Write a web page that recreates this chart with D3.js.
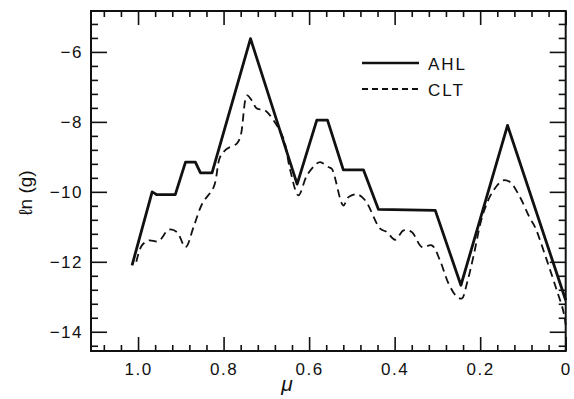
<!DOCTYPE html>
<html><head><meta charset="utf-8">
<script src="https://cdn.jsdelivr.net/npm/d3@7"></script>
<style>
body{margin:0;background:#fff;}
svg{display:block;}
text{font-family:"Liberation Sans",Arial,sans-serif;fill:#111;}
</style></head>
<body>
<svg id="c" width="574" height="399"></svg>
<script>
// ---- data ----
const ahlMu = [1.014,0.967,0.960,0.957,0.913,0.889,0.866,0.854,0.827,0.737,0.628,0.582,0.557,0.520,0.473,0.438,0.305,0.245,0.136,0.0];
const ahlG  = [-12.1,-10.0,-10.05,-10.08,-10.08,-9.15,-9.15,-9.46,-9.46,-5.62,-9.78,-7.95,-7.95,-9.37,-9.37,-10.5,-10.53,-12.67,-8.1,-13.1];

const cltMu = [1.004,0.991,0.975,0.952,0.928,0.909,0.889,0.870,0.850,0.823,0.808,0.792,0.769,0.760,0.745,0.734,0.722,0.703,0.683,0.660,0.644,0.625,0.605,0.582,0.574,0.555,0.547,0.520,0.508,0.488,0.469,0.434,0.418,0.399,0.379,0.360,0.336,0.313,0.294,0.274,0.255,0.243,0.231,0.216,0.193,0.169,0.146,0.130,0.107,0.083,0.072,0.044,0.021,0.006,0.0];
const cltG  = [-12.0,-11.53,-11.39,-11.41,-11.08,-11.15,-11.58,-11.0,-10.34,-9.86,-9.0,-8.77,-8.62,-8.39,-7.24,-7.39,-7.62,-7.67,-7.96,-8.48,-9.39,-10.1,-9.53,-9.19,-9.15,-9.29,-9.34,-10.39,-10.15,-10.07,-10.24,-11.05,-11.15,-11.37,-11.1,-11.15,-11.58,-11.53,-11.96,-12.62,-12.99,-13.05,-12.62,-11.86,-10.62,-9.96,-9.67,-9.72,-10.15,-10.77,-11.0,-11.96,-12.81,-13.39,-13.8];

const xTicks = [1.0,0.8,0.6,0.4,0.2,0];
const yTicks = [-14,-12,-10,-8,-6];
const seriesNames = ["AHL","CLT"];

// ---- layout ----
const L=91, R=565.7, T=11, B=351;
const svg = d3.select("#c");
const x = d3.scaleLinear().domain([1.11,0]).range([L,R]);
const y = d3.scaleLinear().domain([-14.55,-4.83]).range([B,T]);

const xMinor = d3.range(0.04,1.10,0.04).map(v=>+v.toFixed(2)).filter(v=>Math.abs(v*5-Math.round(v*5))>1e-6);
const yMinor = d3.range(-14.4,-4.9,0.4).map(v=>+v.toFixed(1)).filter(v=>Math.abs(v/2-Math.round(v/2))>1e-6);

function styleAxis(g){
  g.select(".domain").remove();
  g.selectAll(".tick line").attr("stroke","#111").attr("stroke-width",1.6);
  g.selectAll(".tick text").style("font-size","17px").style("letter-spacing","1.5px").attr("fill","#111");
}
const fx = d=> d===0?"0":d.toFixed(1);
const fy = d=> "\u2212"+Math.abs(d);

// bottom
svg.append("g").attr("transform",`translate(0,${B})`)
  .call(d3.axisBottom(x).tickValues(xTicks).tickSize(-14).tickPadding(12).tickFormat(fx)).call(styleAxis);
svg.append("g").attr("transform",`translate(0,${B})`)
  .call(d3.axisBottom(x).tickValues(xMinor).tickSize(-6).tickFormat("")).call(styleAxis);
// top
svg.append("g").attr("transform",`translate(0,${T})`)
  .call(d3.axisTop(x).tickValues(xTicks).tickSize(-14).tickFormat("")).call(styleAxis);
svg.append("g").attr("transform",`translate(0,${T})`)
  .call(d3.axisTop(x).tickValues(xMinor).tickSize(-6).tickFormat("")).call(styleAxis);
// left
svg.append("g").attr("transform",`translate(${L},0)`)
  .call(d3.axisLeft(y).tickValues(yTicks).tickSize(-16).tickPadding(8).tickFormat(fy)).call(styleAxis);
svg.append("g").attr("transform",`translate(${L},0)`)
  .call(d3.axisLeft(y).tickValues(yMinor).tickSize(-7).tickFormat("")).call(styleAxis);
// right
svg.append("g").attr("transform",`translate(${R},0)`)
  .call(d3.axisRight(y).tickValues(yTicks).tickSize(-16).tickFormat("")).call(styleAxis);
svg.append("g").attr("transform",`translate(${R},0)`)
  .call(d3.axisRight(y).tickValues(yMinor).tickSize(-7).tickFormat("")).call(styleAxis);

// frame
svg.append("rect").attr("x",L).attr("y",T).attr("width",R-L).attr("height",B-T)
  .attr("fill","none").attr("stroke","#111").attr("stroke-width",2);

// lines
const line = d3.line().x(d=>x(d[0])).y(d=>y(d[1]));
const ahl = ahlMu.map((m,i)=>[m,ahlG[i]]);
const clt = cltMu.map((m,i)=>[m,cltG[i]]);
svg.append("path").attr("d",line.curve(d3.curveLinear)(ahl)).attr("fill","none")
  .attr("stroke","#111").attr("stroke-width",2.8).attr("stroke-linejoin","round");
svg.append("path").attr("d",d3.line().x(d=>x(d[0])).y(d=>y(d[1])).curve(d3.curveCatmullRom.alpha(0.5))(clt)).attr("fill","none")
  .attr("stroke","#111").attr("stroke-width",1.8).attr("stroke-dasharray","8,5");

// legend
const lg = svg.append("g");
lg.append("line").attr("x1",362).attr("x2",419).attr("y1",63).attr("y2",63).attr("stroke","#111").attr("stroke-width",2.6);
lg.append("line").attr("x1",362).attr("x2",419).attr("y1",89).attr("y2",89).attr("stroke","#111").attr("stroke-width",1.8).attr("stroke-dasharray","6,4");
lg.append("text").attr("x",428).attr("y",70).text(seriesNames[0]).style("font-size","17px").style("letter-spacing","2px");
lg.append("text").attr("x",428).attr("y",96).text(seriesNames[1]).style("font-size","17px").style("letter-spacing","2px");

// axis titles
svg.append("text").attr("transform","translate(32,193) rotate(-90)").attr("text-anchor","middle")
  .style("font-size","19px").text("ℓn (g)");
svg.append("text").attr("x",287).attr("y",391).attr("text-anchor","middle")
  .style("font-size","21px").style("font-style","italic").text("μ");
</script>
</body></html>
